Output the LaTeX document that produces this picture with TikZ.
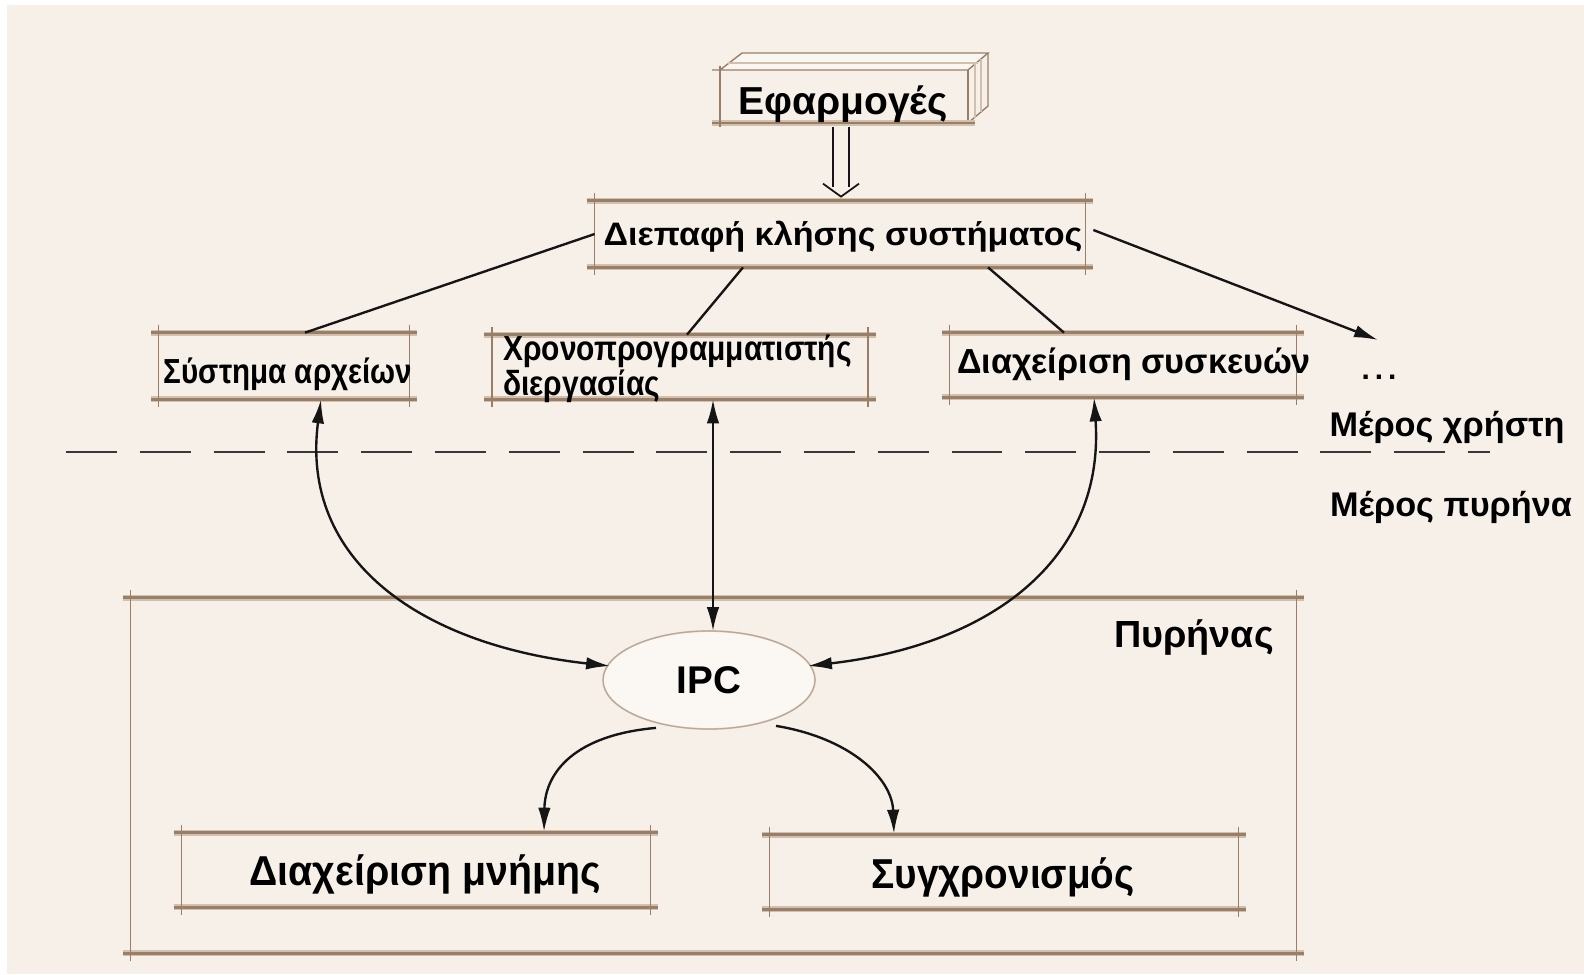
\documentclass[tikz,border=0pt]{standalone}
\usepackage{fontspec}
\setmainfont{Liberation Sans}
\usetikzlibrary{arrows.meta,calc,shapes.geometric}

\definecolor{paper}{HTML}{F7F0E8}
\definecolor{boxbrown}{HTML}{9A7F68}
\definecolor{boxshade}{HTML}{D2C0AE}
\definecolor{ink}{HTML}{151515}

% one drawing unit = one pixel of a 1584 x 974 canvas
\newcommand{\fsz}[1]{\fontsize{#1}{#1}\selectfont\bfseries}

% a box drawn with slightly overshooting edges
\newcommand{\skbox}[1]{%
  \draw[boxhz] ($(#1.north west)+(-8,0)$) -- ($(#1.north east)+(8,0)$);
  \draw[boxhz] ($(#1.south west)+(-8,0)$) -- ($(#1.south east)+(8,0)$);
  \draw[boxvt] ($(#1.north west)+(0,-8)$) -- ($(#1.south west)+(0,8)$);
  \draw[boxvt] ($(#1.north east)+(0,-8)$) -- ($(#1.south east)+(0,8)$);}

\begin{document}
\begin{tikzpicture}[x=0.02cm,y=-0.02cm,
  boxhz/.style={boxbrown,line width=1.6pt,
    preaction={draw=boxshade,line width=3.4pt}},
  boxvt/.style={boxbrown,line width=0.9pt},
  lbl/.style={inner sep=0pt,text=black},
  holder/.style={inner sep=0pt,draw=none},
  conn/.style={ink,line width=1.35pt},
  tip/.style={-{Latex[length=0.48cm,width=0.25cm]}},
  tips/.style={{Latex[length=0.48cm,width=0.25cm]}-{Latex[length=0.48cm,width=0.25cm]}},
]
\useasboundingbox (0,0) rectangle (1584,974);
\fill[white] (0,0) rectangle (1584,974);
\fill[paper] (7,5) rectangle (1584,974);

% ---- applications block (3-D slab) ----
\node[holder,minimum width={248*0.02cm},minimum height={53*0.02cm}] (app) at (844,96) {};
\fill[paper!60!white] (720,70) -- (740,53) -- (988,53) -- (968,70) -- cycle;
\draw[boxbrown,line width=0.8pt] (712,70) -- (968,70) -- (988,53) -- (742,53) -- (720,70);
\draw[boxshade,line width=0.8pt] (728,63) -- (978,63);
\draw[boxbrown,line width=0.8pt] (968,70) -- (968,123);
\draw[boxbrown,line width=0.8pt] (988,53) -- (988,106) -- (968,123);
\draw[boxshade,line width=0.8pt] (975,64) -- (975,118) (981,59) -- (981,112);
\draw[boxhz] (712,123) -- (975,123);
\draw[boxvt] (720,66) -- (720,127);
\node[lbl,font=\fsz{22.2pt}] (applbl) at (843,104) {Εφαρμογές};

% ---- system call interface ----
\node[holder,minimum width={490*0.02cm},minimum height={66*0.02cm}] (sci) at (840,234) {};
\skbox{sci}
\node[lbl,font=\fsz{18.5pt},xscale=1.05] at (843,237) {Διεπαφή κλήσης συστήματος};

% ---- user-space servers ----
\node[holder,minimum width={250*0.02cm},minimum height={66*0.02cm}] (fs) at (284,366) {};
\skbox{fs}
\node[lbl,font=\fsz{19.8pt},xscale=0.85] at (288,374) {Σύστημα αρχείων};

\node[holder,minimum width={375*0.02cm},minimum height={64*0.02cm}] (sch) at (680,367) {};
\skbox{sch}
\node[lbl,font=\fsz{19.8pt},xscale=0.86,anchor=west,align=left] at (503,369)
  {Χρονοπρογραμματιστής\\διεργασίας};

\node[holder,minimum width={346*0.02cm},minimum height={64*0.02cm}] (dev) at (1123,365) {};
\skbox{dev}
\node[lbl,font=\fsz{19.8pt},xscale=0.98] at (1134,364) {Διαχείριση συσκευών};

\node[lbl,font=\fsz{17pt}] (dots) at (1379,377) {.\,.\,.};
\coordinate (more) at (1378,340);

% ---- user / kernel divider ----
\coordinate (divL) at (66,452);
\coordinate (divR) at (1490,452);
\draw[ink!85,line width=1.3pt,dash pattern=on 29pt off 13pt] (divL) -- (divR);
\node[lbl,font=\fsz{19.5pt}] (user) at (1447,427) {Μέρος χρήστη};
\node[lbl,font=\fsz{19.5pt}] (kern) at (1451,507) {Μέρος πυρήνα};

% ---- kernel ----
\node[holder,minimum width={1165*0.02cm},minimum height={355*0.02cm}] (kbox) at (713.5,775.5) {};
\skbox{kbox}
\node[lbl,font=\fsz{21.5pt}] at (1194,637) {Πυρήνας};

\node[ellipse,draw=boxshade,line width=1pt,fill=paper!50!white,
  minimum width={212*0.02cm},minimum height={98*0.02cm},inner sep=0pt] (ipc) at (709,680) {};
\draw[boxbrown!70,line width=0.5pt] (ipc.center) ellipse [x radius=106,y radius=49];
\node[lbl,font=\fsz{22pt}] at (709,680) {IPC};

\node[holder,minimum width={468*0.02cm},minimum height={74*0.02cm}] (mem) at (416,870) {};
\skbox{mem}
\node[lbl,font=\fsz{23.8pt},xscale=0.94] at (425,874) {Διαχείριση μνήμης};

\node[holder,minimum width={468*0.02cm},minimum height={74*0.02cm}] (sync) at (1004,872) {};
\skbox{sync}
\node[lbl,font=\fsz{23.8pt},xscale=0.925] at (1003,877) {Συγχρονισμός};

% ---- connectors ----
% double (hollow) arrow from the applications down to the interface
\coordinate (dblL) at ($(app.south)+(-11,4)$);
\coordinate (dblR) at ($(app.south)+(5,4)$);
\coordinate (dblHL) at ($(sci.north)+(-17,-17)$);
\coordinate (dblHR) at ($(sci.north)+(19,-17)$);
\coordinate (dblT) at ($(sci.north)+(1,-4)$);
\draw[ink,line width=1pt] (dblL) -- ($(dblL|-dblHL)+(0,3)$) (dblR) -- ($(dblR|-dblHL)+(0,3)$);
\draw[ink,line width=1pt] (dblHL) -- (dblT) -- (dblHR);

\draw[conn] (sci.west) -- ($(fs.north)+(21,0)$);
\draw[conn] ($(sci.south)+(-97,0)$) -- ($(sch.north)+(7,0)$);
\draw[conn] ($(sci.south)+(148,0)$) -- ($(dev.north)+(-59,0)$);
\draw[conn,tip] ($(sci.east)+(8,-4)$) -- (more);

\draw[conn,tips] ($(fs.south)+(37,0)$) .. controls (300,560) and (420,645) .. ($(ipc.west)+(8,-14)$);
\draw[conn,tips] ($(sch.south)+(33,0)$) -- ($(ipc.north)+(4,1)$);
\draw[conn,tips] ($(dev.south)+(-29,0)$) .. controls (1105,560) and (990,645) .. ($(ipc.east)+(-8,-14)$);

\draw[conn,tip] ($(ipc.south)+(-53,-2)$) .. controls (575,735) and (545,772) .. ($(mem.north)+(128,-1)$);
\draw[conn,tip] ($(ipc.south)+(67,-4)$) .. controls (850,738) and (892,778) .. ($(sync.north)+(-110,-1)$);
\end{tikzpicture}
\end{document}
